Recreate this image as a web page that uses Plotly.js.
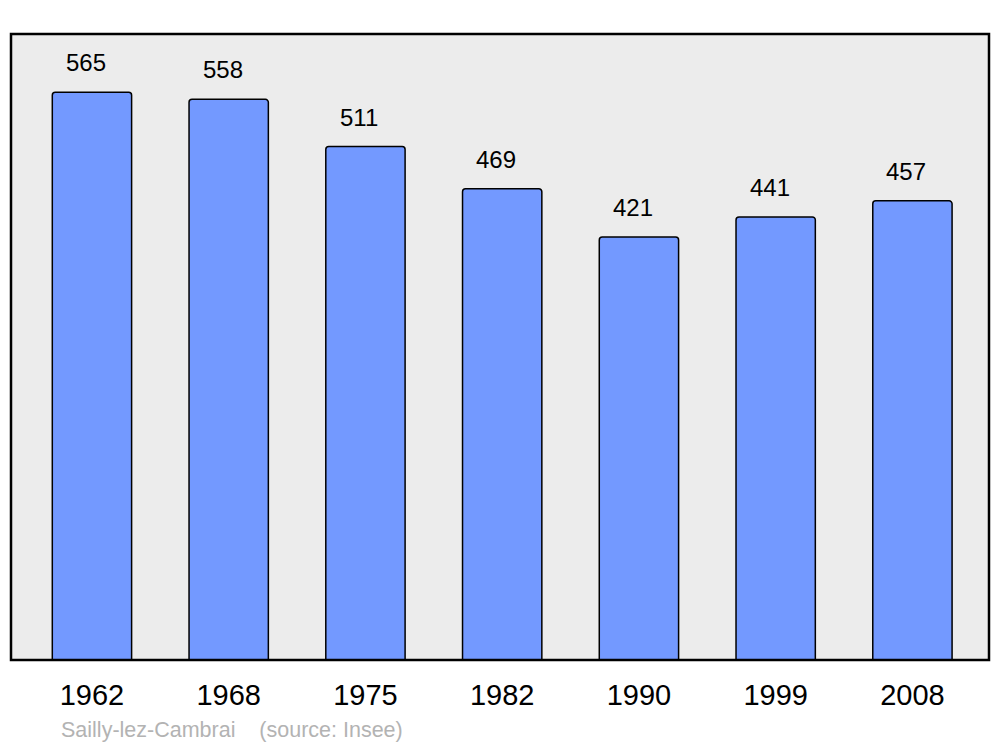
<!DOCTYPE html>
<html><head><meta charset="utf-8">
<script src="https://cdn.plot.ly/plotly-3.0.1.min.js"></script>
<style>html,body{margin:0;padding:0;background:#fff}#chart{width:1000px;height:747px}</style>
</head><body><div id="chart"></div>
<script>
const years = ['1962','1968','1975','1982','1990','1999','2008'];
const population = [565, 558, 511, 469, 421, 441, 457];
const footerText = 'Sailly-lez-Cambrai&nbsp;&nbsp;&nbsp;&nbsp;(source: Insee)';

const FONT = 'Liberation Sans';
const trace = {
  type: 'bar', x: years, y: population, width: 0.58,
  marker: {color: '#7399ff', line: {color: '#000', width: 1.5}, cornerradius: 3},
  hoverinfo: 'skip'
};
const annotations = population.map((v, i) => ({
  x: i, y: v, xref: 'x', yref: 'y', text: String(v),
  showarrow: false, yanchor: 'bottom', yshift: 14, xshift: -6,
  font: {family: FONT, size: 24, color: '#000'}
}));
annotations.push({
  xref: 'paper', yref: 'paper', x: 48/978, y: -70/626, xanchor: 'left', yanchor: 'middle',
  text: footerText, showarrow: false,
  font: {family: FONT, size: 21.5, color: '#b3b3b3'}
});
const layout = {
  width: 1000, height: 747,
  margin: {l: 11, r: 11, t: 34, b: 87},
  paper_bgcolor: '#fff', plot_bgcolor: '#ececec',
  showlegend: false,
  xaxis: {type: 'category', range: [-0.592, 6.56], showgrid: false, zeroline: false,
    ticks: '', ticklabelstandoff: 15,
    tickfont: {family: FONT, size: 29, color: '#000'}},
  yaxis: {range: [0, 623], showgrid: false, zeroline: false, showticklabels: false, ticks: ''},
  shapes: [{type: 'rect', xref: 'paper', yref: 'paper', x0: 0, x1: 1, y0: 0, y1: 1,
    line: {color: '#000', width: 2.5}, fillcolor: 'rgba(0,0,0,0)', layer: 'above'}],
  annotations: annotations
};
Plotly.newPlot('chart', [trace], layout, {displayModeBar: false});
</script></body></html>
